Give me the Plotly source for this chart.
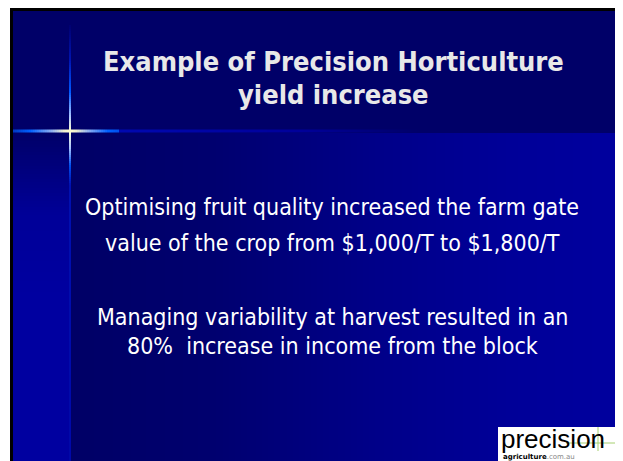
import numpy as np
import plotly.graph_objects as go

# ---- slide content ----
title_lines = ["Example of Precision Horticulture", "yield increase"]
body_lines = [
    "Optimising fruit quality increased the farm gate",
    "value of the crop from $1,000/T to $1,800/T",
    "Managing variability at harvest resulted in an",
    "80%&nbsp;&nbsp;increase in income from the block",
]
logo_word = "precision"
logo_sub_bold = "agriculture"
logo_sub_rest = ".com.au"

W, H = 623, 461
OFF = 8  # page body margin of the browser
title_y = [61, 94]
body_y = [207, 243, 317, 346]
text_x = 332


def hex2rgb(h):
    h = h.lstrip("#")
    return [int(h[i:i + 2], 16) for i in (0, 2, 4)]


def interp(stops, p):
    for (p0, c0), (p1, c1) in zip(stops[:-1], stops[1:]):
        if p0 <= p <= p1:
            t = 0 if p1 == p0 else (p - p0) / (p1 - p0)
            a, b = hex2rgb(c0), hex2rgb(c1)
            r = [round(a[i] + (b[i] - a[i]) * t) for i in range(3)]
            return "rgb(%d,%d,%d)" % tuple(r)
    return stops[-1][1]


fig = go.Figure()

# horizontal gradient of body area
body_stops = [(0.0, "#000066"), (0.25, "#00006E"), (0.55, "#000088"), (0.8, "#000098"), (1.0, "#00009E")]
nx = 180
xe = np.linspace(70, 619, nx + 1)
zc = (np.arange(nx) + 0.5) / nx
fig.add_trace(go.Heatmap(
    x=xe, y=[133, 461], z=[zc], zmin=0, zmax=1,
    colorscale=[[s, c] for s, c in body_stops], showscale=False, hoverinfo="skip"))

# vertical gradient of left strip
strip_stops = [(0.0, "#000068"), (0.5, "#000098"), (1.0, "#0000A0")]
ny = 120
ye = np.linspace(133, 461, ny + 1)
zy = np.clip((np.arange(ny) + 0.5) / ny * 2.0, 0, 1)
fig.add_trace(go.Heatmap(
    x=[13, 70], y=ye, z=[[v] for v in zy], zmin=0, zmax=1,
    colorscale=[[s, c] for s, c in strip_stops], showscale=False, hoverinfo="skip"))

shapes = []
# header band
shapes.append(dict(type="rect", x0=13, x1=619, y0=11, y1=133, fillcolor="#000068", line_width=0, layer="below"))

# flare: horizontal
h_stops = [(13, "#0038C0"), (30, "#0060FF"), (52, "#90B0F0"), (64, "#F0F0D0"), (70, "#FFFFD0"),
           (76, "#F0F0D0"), (88, "#90B0F0"), (108, "#0060FF"), (118, "#0050F0"), (120, "#0008B0"),
           (300, "#00009A"), (420, "#000068")]
for x in range(13, 420, 2):
    shapes.append(dict(type="line", x0=x, x1=x + 2, y0=131, y1=131,
                       line=dict(color=interp(h_stops, x + 1), width=3), layer="above"))
# flare: vertical
v_stops = [(25, "#000070"), (60, "#0014B0"), (92, "#0058FF"), (116, "#A8C4FF"), (131, "#FFFFD0"),
           (148, "#A8C4FF"), (165, "#0050F0"), (185, "#0010B0"), (461, "#0008A8")]
for y in range(25, 461, 2):
    shapes.append(dict(type="line", x0=70, x1=70, y0=y, y1=y + 2,
                       line=dict(color=interp(v_stops, y + 1), width=2), layer="above"))

# logo box
shapes.append(dict(type="rect", x0=498, x1=619, y0=427, y1=461, fillcolor="white", line_width=0, layer="above"))
shapes.append(dict(type="line", x0=598, x1=598, y0=427, y1=451, line=dict(color="#A6D070", width=1), layer="above"))
shapes.append(dict(type="line", x0=566, x1=619, y0=443, y1=443, line=dict(color="#A6D070", width=1), layer="above"))

# black frame
shapes.append(dict(type="rect", x0=10, x1=13, y0=8, y1=461, fillcolor="black", line_width=0, layer="above"))
shapes.append(dict(type="rect", x0=10, x1=623, y0=8, y1=11, fillcolor="black", line_width=0, layer="above"))
shapes.append(dict(type="rect", x0=619, x1=623, y0=8, y1=461, fillcolor="black", line_width=0, layer="above"))

annotations = []
for t, y in zip(title_lines, title_y):
    annotations.append(dict(x=text_x + 1, y=y, text="<b>%s</b>" % t, showarrow=False,
                            xanchor="center", yanchor="middle",
                            font=dict(family="DejaVu Sans Condensed, DejaVu Sans", size=27, color="#E8E8E8")))
for t, y in zip(body_lines, body_y):
    annotations.append(dict(x=text_x, y=y, text=t, showarrow=False,
                            xanchor="center", yanchor="middle",
                            font=dict(family="DejaVu Sans Condensed, DejaVu Sans", size=23, color="white")))
annotations.append(dict(x=499, y=439, text=logo_word, showarrow=False, xanchor="left", yanchor="middle",
                        font=dict(family="Liberation Sans, DejaVu Sans", size=26, color="black")))
annotations.append(dict(x=501, y=457, text="<b>%s</b><span style='color:#888888'>%s</span>" % (logo_sub_bold, logo_sub_rest),
                        showarrow=False, xanchor="left", yanchor="middle",
                        font=dict(family="DejaVu Sans", size=7, color="black")))

fig.update_layout(
    width=W - OFF, height=H - OFF, margin=dict(l=0, r=0, t=0, b=0),
    paper_bgcolor="white", plot_bgcolor="white",
    xaxis=dict(range=[OFF, W], visible=False, fixedrange=True),
    yaxis=dict(range=[H, OFF], visible=False, fixedrange=True),
    shapes=shapes, annotations=annotations, showlegend=False,
)
fig.write_html("out.html", config={"displayModeBar": False})
